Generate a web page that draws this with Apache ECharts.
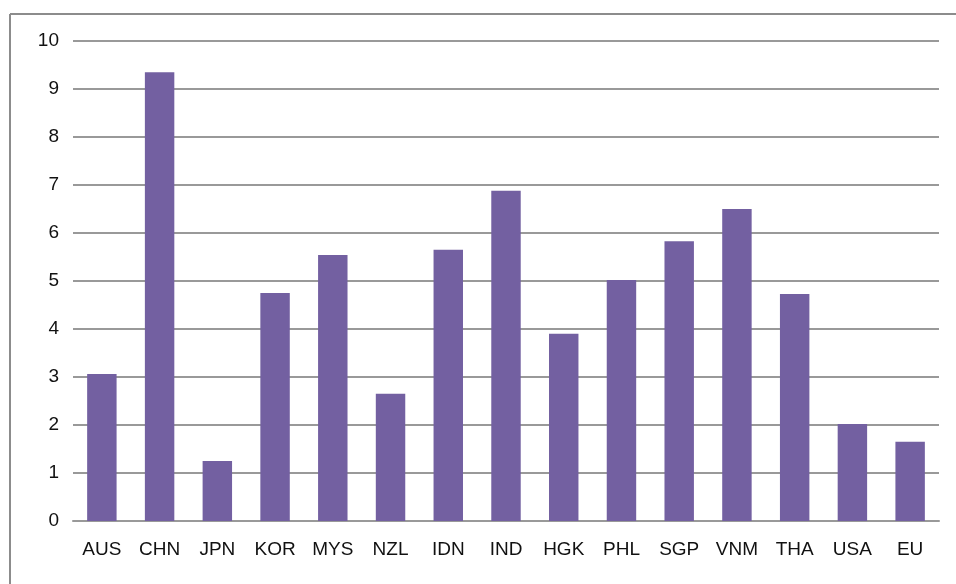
<!DOCTYPE html>
<html><head><meta charset="utf-8">
<script src="https://cdn.jsdelivr.net/npm/echarts@6/dist/echarts.min.js"></script>
<style>html,body{margin:0;padding:0;background:#fff}#c{width:956px;height:584px}</style>
</head><body><div id="c"></div>
<script>
const categories = ['AUS','CHN','JPN','KOR','MYS','NZL','IDN','IND','HGK','PHL','SGP','VNM','THA','USA','EU'];
const values = [3.06, 9.35, 1.25, 4.75, 5.54, 2.65, 5.65, 6.88, 3.9, 5.02, 5.83, 6.5, 4.73, 2.02, 1.65];
const yTicks = [0,1,2,3,4,5,6,7,8,9,10];

const chart = echarts.init(document.getElementById('c'));
chart.setOption({
  animation: false,
  backgroundColor: '#fff',
  graphic: [
    {type:'line', shape:{x1:10,y1:14,x2:956,y2:14}, style:{stroke:'#8c8c8c', lineWidth:2}},
    {type:'line', shape:{x1:10,y1:14,x2:10,y2:584}, style:{stroke:'#8c8c8c', lineWidth:2}}
  ],
  grid: {left:73, right:17, top:41, bottom:63, containLabel:false},
  xAxis: {
    type:'category', data: categories,
    axisTick:{show:false},
    axisLine:{show:true, lineStyle:{color:'#999', width:2}},
    axisLabel:{color:'#111', fontSize:19, fontFamily:'Liberation Sans, Arial, sans-serif', margin:19}
  },
  yAxis: {
    type:'value', min:yTicks[0], max:yTicks[yTicks.length-1], interval:1,
    axisLine:{show:false}, axisTick:{show:false},
    splitLine:{lineStyle:{color:'#999', width:2}},
    axisLabel:{color:'#111', fontSize:19, fontFamily:'Liberation Sans, Arial, sans-serif', margin:14}
  },
  series: [{
    type:'bar', data: values, barWidth:'51%',
    itemStyle:{color:'#7360a1'}
  }]
});
</script></body></html>
